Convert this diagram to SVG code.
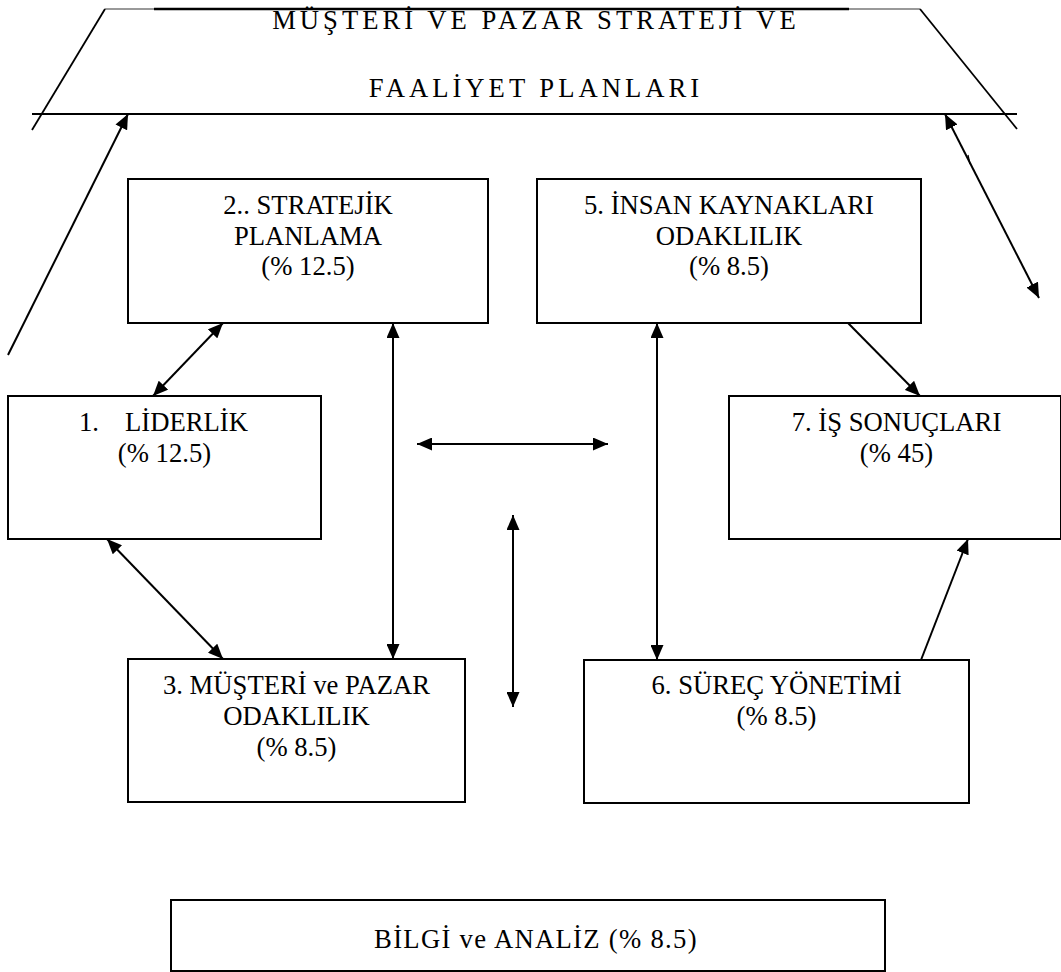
<svg xmlns="http://www.w3.org/2000/svg" width="1061" height="972" viewBox="0 0 1061 972">
  <style>
    .box { fill: #fff; stroke: #000; stroke-width: 2; }
    .lbl { font-family: "Liberation Serif", "Times New Roman", serif; font-size: 26.67px; fill: #000; text-anchor: middle; }
    .lbl-l { font-family: "Liberation Serif", "Times New Roman", serif; font-size: 26.67px; fill: #000; }
    .spaced { letter-spacing: 4px; }
    .conn line { stroke: #000; stroke-width: 2; fill: none; }
    .frame line { stroke: #000; stroke-width: 1.8; }
  </style>
  <defs>
    <marker id="head" markerUnits="userSpaceOnUse" markerWidth="15" markerHeight="13" refX="15" refY="6.5" orient="auto-start-reverse">
      <path d="M0,0 L15,6.5 L0,13 z" fill="#000"/>
    </marker>
  </defs>

  <rect width="1061" height="972" fill="#fff"/>

  <!-- top banner: trapezoid with title -->
  <g id="banner">
    <g class="frame">
      <line x1="105" y1="9" x2="920" y2="9" style="stroke:#777;stroke-width:1.5"/>
      <line x1="154" y1="9" x2="849" y2="9" style="stroke-width:2.6"/>
      <line x1="105" y1="9" x2="32" y2="130"/>
      <line x1="920" y1="9" x2="1017" y2="129"/>
      <line x1="32" y1="114" x2="1017" y2="114"/>
    </g>
    <text class="lbl spaced" x="536" y="29">MÜŞTERİ VE PAZAR STRATEJİ VE</text>
    <text class="lbl spaced" x="536" y="97">FAALİYET PLANLARI</text>
  </g>

  <!-- 2. strategic planning -->
  <g id="n2">
    <rect class="box" x="128" y="179" width="360" height="144"/>
    <text class="lbl" x="308" y="214">2.. STRATEJİK</text>
    <text class="lbl" x="308" y="245">PLANLAMA</text>
    <text class="lbl" x="308" y="275">(% 12.5)</text>
  </g>

  <!-- 5. human resources -->
  <g id="n5">
    <rect class="box" x="537" y="179" width="384" height="144"/>
    <text class="lbl" x="729" y="214">5. İNSAN KAYNAKLARI</text>
    <text class="lbl" x="729" y="245">ODAKLILIK</text>
    <text class="lbl" x="729" y="275">(% 8.5)</text>
  </g>

  <!-- 1. leadership -->
  <g id="n1">
    <rect class="box" x="8" y="396" width="313" height="143"/>
    <text class="lbl-l" x="79" y="431">1.</text>
    <text class="lbl-l" x="125" y="431">LİDERLİK</text>
    <text class="lbl" x="164.5" y="462">(% 12.5)</text>
  </g>

  <!-- 7. business results (right side runs to the page edge) -->
  <g id="n7">
    <rect class="box" x="729" y="396" width="332" height="143"/>
    <text class="lbl" x="896.5" y="431">7. İŞ SONUÇLARI</text>
    <text class="lbl" x="896.5" y="462">(% 45)</text>
  </g>

  <!-- 3. customer and market focus -->
  <g id="n3">
    <rect class="box" x="128" y="659" width="337" height="143"/>
    <text class="lbl" x="296.5" y="694">3. MÜŞTERİ ve PAZAR</text>
    <text class="lbl" x="296.5" y="725">ODAKLILIK</text>
    <text class="lbl" x="296.5" y="756">(% 8.5)</text>
  </g>

  <!-- 6. process management -->
  <g id="n6">
    <rect class="box" x="584" y="660" width="385" height="143"/>
    <text class="lbl" x="776.5" y="694">6. SÜREÇ YÖNETİMİ</text>
    <text class="lbl" x="776.5" y="725">(% 8.5)</text>
  </g>

  <!-- information and analysis -->
  <g id="n8">
    <rect class="box" x="171" y="900" width="714" height="71"/>
    <text class="lbl" x="536" y="948" style="letter-spacing:1.3px">BİLGİ ve ANALİZ (% 8.5)</text>
  </g>

  <!-- connectors -->
  <g id="connectors" class="conn">
    <line x1="8" y1="355" x2="128" y2="114" marker-end="url(#head)"/>
    <line x1="945" y1="114" x2="1039" y2="298" marker-start="url(#head)" marker-end="url(#head)"/>
    <line x1="968" y1="155" x2="970" y2="164" style="stroke-width:1.2"/>
    <line x1="223" y1="323" x2="153" y2="396" marker-start="url(#head)" marker-end="url(#head)"/>
    <line x1="107" y1="539" x2="223" y2="659" marker-start="url(#head)" marker-end="url(#head)"/>
    <line x1="393" y1="323" x2="393" y2="659" marker-start="url(#head)" marker-end="url(#head)"/>
    <line x1="417" y1="444" x2="608" y2="444" marker-start="url(#head)" marker-end="url(#head)"/>
    <line x1="513" y1="515" x2="513" y2="707" marker-start="url(#head)" marker-end="url(#head)"/>
    <line x1="657" y1="323" x2="657" y2="660" marker-start="url(#head)" marker-end="url(#head)"/>
    <line x1="848" y1="323" x2="920" y2="396" marker-end="url(#head)"/>
    <line x1="921" y1="660" x2="968" y2="539" marker-end="url(#head)"/>
  </g>
</svg>
